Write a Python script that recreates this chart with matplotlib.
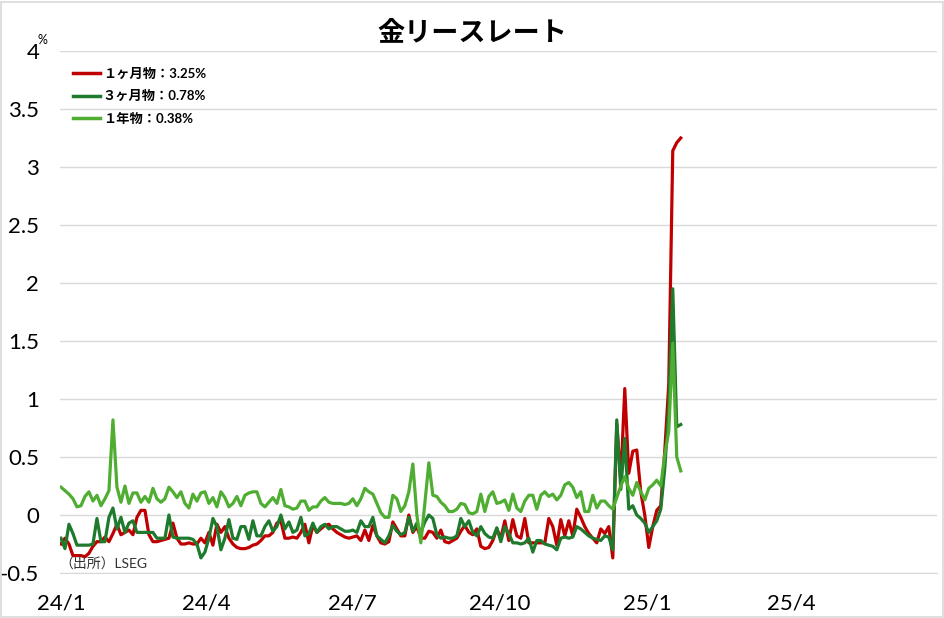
#!/usr/bin/env python3
"""Gold lease rates (1M / 3M / 1Y), Jan 2024 - Jan 2025."""

import pandas as pd
import matplotlib
matplotlib.use("Agg")
import matplotlib.pyplot as plt
from matplotlib.patches import Rectangle

# ── fonts: Calibri-like latin first, CJK fallback ─────────────────────────────
LATIN = "Lato"
CJK = "Noto Sans CJK JP"
plt.rcParams["font.family"] = [LATIN, CJK, "DejaVu Sans"]

# ── data (one sample roughly every 2.5 days) ─────────────────────────────────
START, END = "2024-01-01", "2025-01-22"

rate_1m = [
    -0.25, -0.2, -0.25, -0.35, -0.35, -0.35, -0.36, -0.33, -0.27, -0.23,
    -0.23, -0.19, -0.23, -0.16, -0.08, -0.17, -0.15, -0.13, -0.17, -0.02,
    0.04, 0.04, -0.17, -0.23, -0.23, -0.22, -0.21, -0.2, -0.07, -0.2,
    -0.25, -0.25, -0.24, -0.25, -0.25, -0.2, -0.24, -0.15, -0.26, -0.08,
    -0.15, -0.1, -0.2, -0.25, -0.28, -0.29, -0.29, -0.28, -0.26, -0.25,
    -0.22, -0.18, -0.18, -0.15, -0.07, -0.05, -0.2, -0.2, -0.19, -0.2,
    -0.15, -0.08, -0.24, -0.09, -0.15, -0.12, -0.09, -0.08, -0.12, -0.15,
    -0.17, -0.19, -0.2, -0.19, -0.18, -0.22, -0.13, -0.22, -0.09, -0.18,
    -0.24, -0.25, -0.23, -0.06, -0.12, -0.18, -0.18, 0.0, -0.15, -0.1,
    -0.2, -0.2, -0.14, -0.15, -0.2, -0.13, -0.23, -0.24, -0.22, -0.2,
    -0.14, -0.09, -0.15, -0.17, -0.12, -0.27, -0.29, -0.28, -0.22, -0.12,
    -0.2, -0.05, -0.22, -0.04, -0.18, -0.2, -0.03, -0.24, -0.24, -0.24,
    -0.24, -0.24, -0.03, -0.1, -0.26, -0.04, -0.18, -0.05, -0.18, 0.05,
    -0.02, -0.1, -0.16, -0.2, -0.24, -0.12, -0.16, -0.1, -0.37, 0.78,
    0.3, 1.09, 0.36, 0.55, 0.56, 0.2, 0.0, -0.28, -0.1, 0.04,
    0.08, 0.55, 1.13, 3.14, 3.21, 3.25,
]

rate_3m = [
    -0.2, -0.29, -0.08, -0.16, -0.26, -0.26, -0.26, -0.26, -0.25, -0.03,
    -0.23, -0.23, -0.02, 0.06, -0.12, -0.02, -0.15, -0.07, -0.05, -0.15,
    -0.15, -0.15, -0.15, -0.15, -0.2, -0.2, -0.2, 0.0, -0.19, -0.2,
    -0.2, -0.2, -0.2, -0.21, -0.25, -0.37, -0.32, -0.2, -0.03, -0.1,
    -0.3, -0.2, -0.04, -0.2, -0.21, -0.1, -0.1, -0.21, -0.05, -0.18,
    -0.18, -0.1, -0.05, -0.14, -0.1, 0.0, -0.12, -0.06, -0.15, -0.13,
    -0.02, -0.18, -0.16, -0.07, -0.15, -0.1, -0.08, -0.12, -0.1, -0.1,
    -0.12, -0.14, -0.14, -0.13, -0.15, -0.05, -0.1, -0.1, -0.02, -0.18,
    -0.21, -0.24, -0.18, -0.09, -0.14, -0.17, -0.15, -0.02, -0.14, -0.07,
    -0.15, -0.06, 0.0, -0.03, -0.17, -0.2, -0.19, -0.2, -0.2, -0.18,
    -0.03, -0.1, -0.05, -0.15, -0.18, -0.1, -0.16, -0.19, -0.2, -0.11,
    -0.23, -0.1, -0.16, -0.24, -0.24, -0.25, -0.24, -0.2, -0.32, -0.22,
    -0.22, -0.25, -0.26, -0.27, -0.3, -0.2, -0.19, -0.2, -0.19, -0.1,
    -0.12, -0.15, -0.18, -0.2, -0.21, -0.22, -0.18, -0.19, -0.3, 0.82,
    0.22, 0.66, 0.05, 0.08, 0.0, -0.03, -0.07, -0.15, -0.1, -0.05,
    0.05, 0.4, 0.92, 1.95, 0.76, 0.78,
]

rate_1y = [
    0.24, 0.21, 0.18, 0.14, 0.07, 0.08, 0.16, 0.2, 0.12, 0.17,
    0.08, 0.14, 0.21, 0.82, 0.24, 0.11, 0.25, 0.1, 0.19, 0.19,
    0.11, 0.16, 0.11, 0.23, 0.14, 0.11, 0.14, 0.24, 0.2, 0.15,
    0.2, 0.1, 0.06, 0.18, 0.12, 0.19, 0.2, 0.1, 0.15, 0.07,
    0.2, 0.15, 0.07, 0.1, 0.16, 0.08, 0.17, 0.19, 0.2, 0.2,
    0.1, 0.07, 0.11, 0.15, 0.1, 0.22, 0.08, 0.07, 0.05, 0.06,
    0.12, 0.12, 0.04, 0.07, 0.07, 0.12, 0.15, 0.11, 0.1, 0.1,
    0.1, 0.09, 0.1, 0.14, 0.08, 0.14, 0.23, 0.2, 0.18, 0.1,
    0.02, -0.02, -0.02, 0.17, 0.14, 0.03, 0.08, 0.2, 0.44, 0.0,
    -0.24, 0.1, 0.45, 0.17, 0.16, 0.11, 0.08, 0.03, 0.03, 0.05,
    0.1, 0.09, 0.02, 0.01, 0.03, 0.18, 0.03, 0.16, 0.2, 0.1,
    0.11, 0.13, 0.04, 0.18, 0.06, 0.03, 0.12, 0.17, 0.17, 0.05,
    0.17, 0.2, 0.16, 0.18, 0.13, 0.17, 0.26, 0.28, 0.24, 0.15,
    0.2, 0.03, 0.03, 0.17, 0.06, 0.12, 0.12, 0.08, 0.05, 0.15,
    0.25, 0.33, 0.23, 0.17, 0.28, 0.2, 0.13, 0.23, 0.26, 0.3,
    0.25, 0.52, 0.72, 1.48, 0.5, 0.38,
]

dates = pd.date_range(START, END, periods=len(rate_1m))

series_labels = ["１ヶ月物：3.25%", "３ヶ月物：0.78%", "１年物：0.38%"]
series_colours = ["#C00000", "#1E7A2C", "#4FAE32"]

y_ticks = [-0.5, 0, 0.5, 1, 1.5, 2, 2.5, 3, 3.5, 4]
y_tick_labels = ["-0.5", "0", "0.5", "1", "1.5", "2", "2.5", "3", "3.5", "4"]
x_tick_dates = pd.to_datetime(["2024-01-01", "2024-04-01", "2024-07-01",
                               "2024-10-01", "2025-01-01", "2025-04-01"])
x_tick_labels = ["24/1", "24/4", "24/7", "24/10", "25/1", "25/4"]
x_limits = pd.to_datetime(["2024-01-01", "2025-07-01"])

# ── figure ────────────────────────────────────────────────────────────────────
W, H = 945, 618
AX_L, AX_B, AX_W, AX_H = 60, 573, 877, 522   # plot area in pixels
fig = plt.figure(figsize=(W / 100, H / 100), dpi=100)
ax = fig.add_axes([AX_L / W, 1 - AX_B / H, AX_W / W, AX_H / H])

for vals, lab, col in zip([rate_1m, rate_3m, rate_1y], series_labels, series_colours):
    ax.plot(dates, vals, color=col, lw=2.3, label=lab, solid_joinstyle="round")

ax.set_xlim(x_limits[0] - pd.Timedelta(days=0.6), x_limits[1])
ax.set_ylim(-0.5, 4)
ax.set_yticks(y_ticks)
ax.set_yticklabels(y_tick_labels)
ax.set_xticks(x_tick_dates)
ax.set_xticklabels(x_tick_labels)
ax.tick_params(axis="y", length=0, pad=15, labelsize=16)
ax.tick_params(axis="x", length=0, pad=15, labelsize=16)
ax.grid(True, axis="y", color="#D9D9D9", lw=1.0)
ax.set_axisbelow(True)
for side in ("top", "right", "left"):
    ax.spines[side].set_visible(False)
ax.spines["bottom"].set_color("#D9D9D9")

leg = ax.legend(loc="upper left", bbox_to_anchor=(0.009, 0.978), frameon=False,
                prop={"weight": "bold", "size": 9.5}, handlelength=2.0,
                handletextpad=0.25, labelspacing=0.78, borderaxespad=0)
for line in leg.get_lines():
    line.set_linewidth(2.5)

ax.text((59 - AX_L) / AX_W, (AX_B - 563) / AX_H, "（出所）LSEG",
        transform=ax.transAxes, fontsize=10, color="#333333",
        va="center", ha="left")

fig.text(472 / W, 1 - 32 / H, "金リースレート", ha="center", va="center",
         fontsize=19.5, fontweight="bold", family=[CJK])
fig.text(38 / W, 1 - 40 / H, "%", ha="left", va="center", fontsize=9)

# thin grey frame round the whole chart
fig.patches.append(Rectangle((1 / W, 1 / H), (W - 3) / W, (H - 3) / H,
                             transform=fig.transFigure, fill=False,
                             edgecolor="#D9D9D9", lw=1.2))

fig.savefig("out.png", dpi=100)
